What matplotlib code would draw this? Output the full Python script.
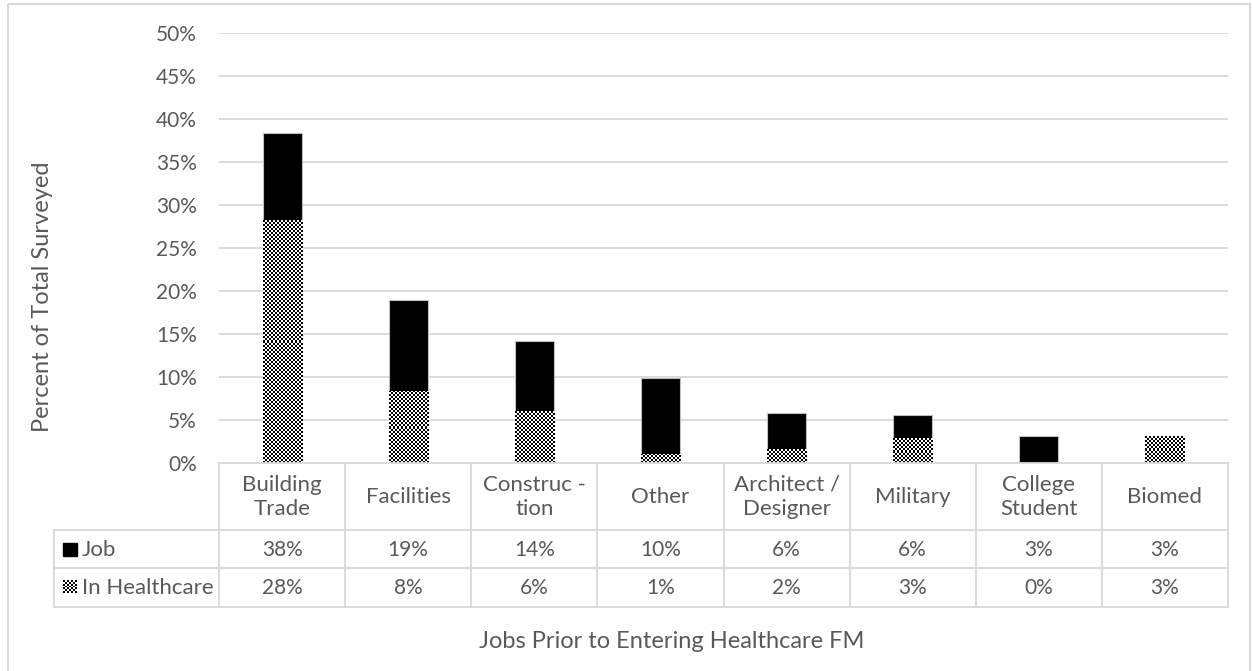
import numpy as np
from matplotlib import pyplot as plt
from matplotlib import rc
from matplotlib.patches import Rectangle
from matplotlib.lines import Line2D
from matplotlib.transforms import blended_transform_factory

rc('font', family='Lato', size=15)

# survey shares, percent of total
categories = ['Building\nTrade', 'Facilities', 'Construc -\ntion', 'Other',
              'Architect /\nDesigner', 'Military', 'College\nStudent', 'Biomed']
job = [38.4, 18.9, 14.2, 9.9, 5.8, 5.6, 3.1, 3.1]
in_healthcare = [28.2, 8.4, 6.0, 1.1, 1.6, 2.9, 0.0, 3.1]
series_names = ['Job', 'In Healthcare']
y_ticks = list(range(0, 55, 5))

W, H = 1252, 671
TXT = '#595959'
GRID = '#D9D9D9'


def checker(nx, ny):
    return (np.indices((ny, nx)).sum(axis=0) % 2).astype(float)


fig = plt.figure(figsize=(W / 100, H / 100), dpi=100)
ax = fig.add_axes([219 / W, 1 - 463 / H, (1228 - 219) / W, (463 - 33) / H])
ax.patch.set_alpha(0)

x = np.arange(len(categories))
bw = 0.31
ax.bar(x, job, width=bw, color='black', edgecolor='#BFBFBF', lw=0.8, zorder=2)
hc_bars = ax.bar(x, in_healthcare, width=bw, color='white', edgecolor='none', zorder=3)

ax.set_xlim(-0.5, len(categories) - 0.5)
ax.set_ylim(0, 50)

# checkerboard fill for the healthcare bars
bbox = ax.get_window_extent()
px_x = bbox.width / len(categories)
px_y = bbox.height / 50.0
cell = 2.0
for bar, val in zip(hc_bars, in_healthcare):
    if val <= 0:
        continue
    nx = max(1, int(round(bw * px_x / cell)))
    ny = max(1, int(round(val * px_y / cell)))
    x0 = bar.get_x()
    im = ax.imshow(checker(nx, ny), cmap='gray', interpolation='nearest',
                   extent=[x0, x0 + bw, 0, val], aspect='auto', zorder=4)
    im.set_clip_path(bar)
ax.set_xlim(-0.5, len(categories) - 0.5)
ax.set_ylim(0, 50)

ax.set_yticks(y_ticks)
ax.set_yticklabels(['%d%%' % t for t in y_ticks], color=TXT)
ax.tick_params(axis='y', length=0, pad=16)
ax.set_xticks([])
ax.yaxis.grid(True, color=GRID, lw=1.3, zorder=0)
ax.set_axisbelow(True)
for s in ax.spines.values():
    s.set_visible(False)

# overlay in pixel units for the data table and titles
over = fig.add_axes([0, 0, 1, 1])
over.set_xlim(0, W)
over.set_ylim(H, 0)
over.axis('off')
tb = blended_transform_factory(ax.transData, over.transData)

lw = 1.3
rows = [463, 530, 568, 607]
n = len(categories)
over.add_line(Line2D([-0.5, n - 0.5], [463, 463], color=GRID, lw=lw, transform=tb))
for y in rows[1:]:
    over.plot([54, 1228], [y, y], color=GRID, lw=lw)
over.plot([54, 54], [530, 607], color=GRID, lw=lw)
for i in range(n + 1):
    over.add_line(Line2D([i - 0.5, i - 0.5], [463, 607], color=GRID, lw=lw, transform=tb))

for i, cat in enumerate(categories):
    over.text(i, 497, cat, transform=tb, ha='center', va='center', color=TXT,
              fontsize=16, linespacing=1.3)
    over.text(i, 549.5, '%.0f%%' % job[i], transform=tb, ha='center', va='center', color=TXT)
    over.text(i, 588, '%.0f%%' % in_healthcare[i], transform=tb, ha='center', va='center',
              color=TXT)

# legend keys inside the table
over.add_patch(Rectangle((63, 543), 14, 13, color='black'))
over.imshow(checker(7, 7), cmap='gray', interpolation='nearest',
            extent=[63, 77, 593, 580], aspect='auto')
over.set_xlim(0, W)
over.set_ylim(H, 0)
over.text(82, 549.5, series_names[0], ha='left', va='center', color=TXT, fontsize=16)
over.text(82, 588, series_names[1], ha='left', va='center', color=TXT, fontsize=16)

over.text(672, 642, 'Jobs Prior to Entering Healthcare FM', ha='center', va='center',
          color=TXT, fontsize=17)
over.text(43, 297, 'Percent of Total Surveyed', rotation=90, ha='center', va='center',
          color=TXT, fontsize=17)

over.add_patch(Rectangle((8, 4), 1242, 680, fill=False, edgecolor=GRID, lw=1.5))

plt.savefig('out.png', dpi=100)
